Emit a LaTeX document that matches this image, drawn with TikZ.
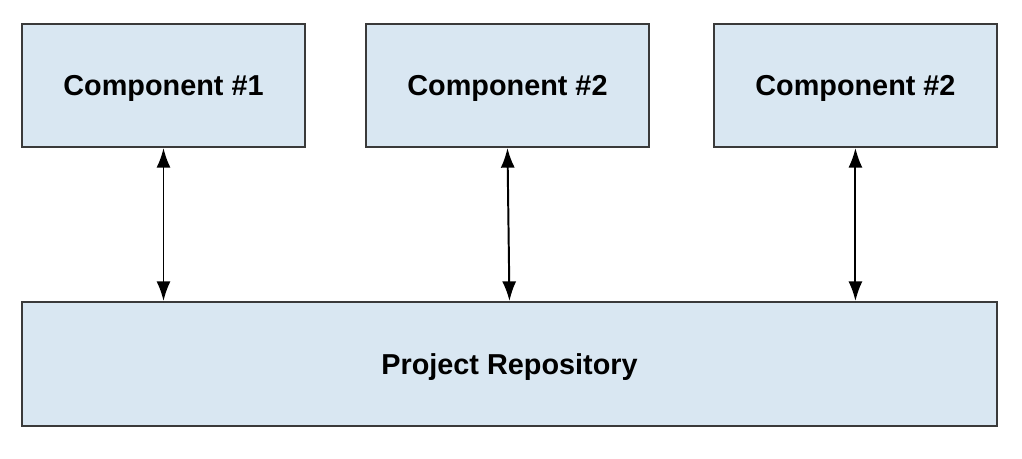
\documentclass[tikz,border=0pt]{standalone}
\usepackage{fontspec}
\setmainfont{Liberation Sans}
\usepackage{tikz}
\usetikzlibrary{arrows.meta,positioning}
\definecolor{boxfill}{HTML}{D9E7F2}
\definecolor{boxline}{HTML}{3A3A3A}
\tikzset{
    node distance = 1.475cm and 1.475cm,
    comp/.style = {rectangle, draw=boxline, fill=boxfill, line width=1.4pt,
                   minimum width=7.075cm, minimum height=3.075cm, text depth=0pt,
                   font=\bfseries\fontsize{20.5}{24}\selectfont},
    repo/.style = {comp, minimum width=24.375cm, minimum height=3.1cm},
    bidirected/.style = {{Latex[length=14pt,width=10pt]}-{Latex[length=14pt,width=10pt]}, line width=1.4pt, black}
}
\begin{document}
\begin{tikzpicture}
    \useasboundingbox (0,0) rectangle (25.55,-11.45);
    \node[comp] (1) at (4.0875,-2.1375) {Component \#1};
    \node[comp] (2) [right = of 1] {Component \#2};
    \node[comp] (3) [right = 1.575cm of 2] {Component \#2};
    \node[repo] (4) at (12.7375,-9.1) {Project Repository};

    \path (1.south) edge[bidirected] (1.south |- 4.north);
    \path (2.south) edge[bidirected] ([xshift=0.05cm]2.south |- 4.north);
    \path (3.south) edge[bidirected] (3.south |- 4.north);
\end{tikzpicture}
\end{document}
